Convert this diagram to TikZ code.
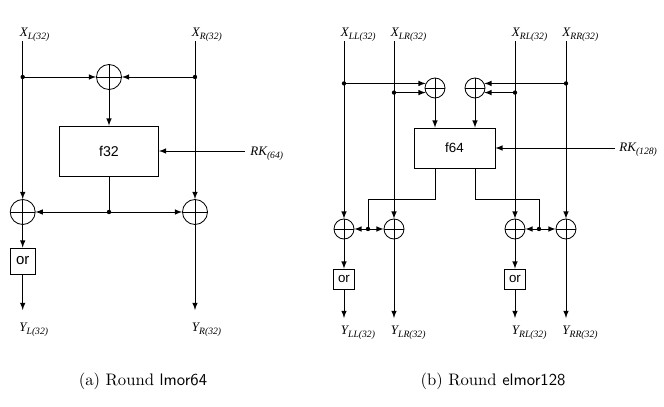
\documentclass[tikz,border=0pt]{standalone}
\usepackage{fontspec}
\usepackage{tikz}
\usetikzlibrary{positioning}
\newfontfamily\serifit{Liberation Serif}
\newfontfamily\sansf{Liberation Sans}
\newcommand{\seglab}[2]{{\serifit\itshape\fontsize{7.8}{9}\selectfont #1\raisebox{-2.2pt}{\fontsize{5.8}{7}\selectfont #2}}}

\tikzset{
  xorop/.style={circle, draw, inner sep=0pt, minimum size=#1,
    path picture={\draw (path picture bounding box.north) -- (path picture bounding box.south)
      (path picture bounding box.west) -- (path picture bounding box.east);}},
  xorop/.default=15pt,
  fbox/.style={draw, inner sep=0pt, font=\sansf\fontsize{8.5}{10}\selectfont},
  lab/.style={anchor=base west, inner sep=0pt}
}

\begin{document}
\begin{tikzpicture}[x=0.6pt, y=-0.6pt, >=latex, line width=0.5pt]
        \useasboundingbox (0,0) rectangle (664,407);

        % (a) ingressi
        \coordinate (inL) at (22.7,41);
        \coordinate (inR) at (195,41);
        \node[lab] (XL) at (19.5,36) {\seglab{X}{L(32)}};
        \node[lab] (XR) at (191.5,36) {\seglab{X}{R(32)}};

        % (a) xor superiore e funzione f32
        \node[xorop] (xt) at (109,77) {};
        \coordinate (jL) at (inL |- xt);
        \coordinate (jR) at (inR |- xt);
        \node[fbox, minimum width=59.4pt, minimum height=30pt] (f32) at (109,151) {f32};
        \coordinate (rk1) at (245,151);
        \node[lab] (RK1) at (250,155) {\seglab{RK}{(64)}};

        % (a) xor inferiori e or
        \node[xorop] (xl) at (22.7,212) {};
        \node[xorop] (xr) at (195,212) {};
        \coordinate (jb) at (f32.south |- xl);
        \node[fbox, minimum width=15pt, minimum height=15.6pt, font=\sansf\fontsize{9}{10}\selectfont] (orL) at (22.7,261) {or};

        % (a) uscite
        \coordinate (outL) at (22.7,310);
        \coordinate (outR) at (195,310);
        \node[lab] (YL) at (19,331) {\seglab{Y}{L(32)}};
        \node[lab] (YR) at (191.5,331) {\seglab{Y}{R(32)}};

        % (a) collegamenti
        \draw[->] (inL) -- (xl);
        \draw[->] (inR) -- (xr);
        \draw[->] (jL) -- (xt);
        \draw[->] (jR) -- (xt);
        \draw[->] (xt) -- (xt |- f32.north);
        \draw[->] (rk1) -- (f32);
        \draw (f32) -- (jb);
        \draw[->] (jb) -- (xl);
        \draw[->] (jb) -- (xr);
        \draw[->] (xl) -- (orL);
        \draw[->] (orL) -- (outL);
        \draw[->] (xr) -- (outR);

        % (b) ingressi
        \coordinate (inLL) at (344,41);
        \coordinate (inLR) at (394,41);
        \coordinate (inRL) at (515,41);
        \coordinate (inRR) at (566,41);
        \node[lab] (XLL) at (340.5,36) {\seglab{X}{LL(32)}};
        \node[lab] (XLR) at (390.5,36) {\seglab{X}{LR(32)}};
        \node[lab] (XRL) at (511.5,36) {\seglab{X}{RL(32)}};
        \node[lab] (XRR) at (562,36) {\seglab{X}{RR(32)}};

        % (b) xor superiori e funzione f64
        \node[xorop=12pt] (xa) at (435,88) {};
        \node[xorop=12pt] (xb) at (475,88) {};
        \coordinate (jLL) at (xa.154 -| inLL);
        \coordinate (jLR) at (xa.206 -| inLR);
        \coordinate (jRR) at (xb.26 -| inRR);
        \coordinate (jRL) at (xb.-26 -| inRL);
        \node[fbox, minimum width=48.6pt, minimum height=24pt, font=\sansf\fontsize{8}{10}\selectfont] (f64) at (454.5,148) {f64};
        \coordinate (rk2) at (615,148);
        \node[lab] (RK2) at (619,151) {\seglab{RK}{(128)}};

        % (b) xor inferiori e or
        \node[xorop=12pt] (xLL) at (344,229) {};
        \node[xorop=12pt] (xLR) at (394,229) {};
        \node[xorop=12pt] (xRL) at (515,229) {};
        \node[xorop=12pt] (xRR) at (566,229) {};
        \coordinate (jbl) at (368,229);
        \coordinate (jbr) at (539,229);
        \node[fbox, minimum width=12.6pt, minimum height=12pt, font=\sansf\fontsize{8}{10}\selectfont] (orLL) at (344,279) {or};
        \node[fbox, minimum width=12.6pt, minimum height=12pt, font=\sansf\fontsize{8}{10}\selectfont] (orRL) at (515,279) {or};

        % (b) uscite
        \coordinate (outLL) at (344,318);
        \coordinate (outLR) at (394,318);
        \coordinate (outRL) at (515,318);
        \coordinate (outRR) at (566,318);
        \node[lab] (YLL) at (340.5,334) {\seglab{Y}{LL(32)}};
        \node[lab] (YLR) at (390.5,334) {\seglab{Y}{LR(32)}};
        \node[lab] (YRL) at (511.5,334) {\seglab{Y}{RL(32)}};
        \node[lab] (YRR) at (562,334) {\seglab{Y}{RR(32)}};

        % (b) collegamenti
        \draw[->] (inLL) -- (xLL);
        \draw[->] (inLR) -- (xLR);
        \draw[->] (inRL) -- (xRL);
        \draw[->] (inRR) -- (xRR);
        \draw[->] (jLL) -- (xa.154);
        \draw[->] (jLR) -- (xa.206);
        \draw[->] (jRR) -- (xb.26);
        \draw[->] (jRL) -- (xb.-26);
        \draw[->] (xa) -- (xa |- f64.north);
        \draw[->] (xb) -- (xb |- f64.north);
        \draw[->] (rk2) -- (f64);
        \draw (xa |- f64.south) -- ++(0,31) -| (jbl);
        \draw (xb |- f64.south) -- ++(0,31) -| (jbr);
        \draw[->] (jbl) -- (xLL);
        \draw[->] (jbl) -- (xLR);
        \draw[->] (jbr) -- (xRL);
        \draw[->] (jbr) -- (xRR);
        \draw[->] (xLL) -- (orLL);
        \draw[->] (orLL) -- (outLL);
        \draw[->] (xLR) -- (outLR);
        \draw[->] (xRL) -- (orRL);
        \draw[->] (orRL) -- (outRL);
        \draw[->] (xRR) -- (outRR);

        % Punti di diramazione
        \foreach \p in {jL,jR,jb,jLL,jLR,jRL,jRR,jbl,jbr}
            \fill (\p) circle (1.3pt);

        % Didascalie
        \node[anchor=base] (capa) at (143,385) {(a) Round \textsf{lmor64}};
        \node[anchor=base] (capb) at (493,385) {(b) Round \textsf{elmor128}};
    \end{tikzpicture}
\end{document}
